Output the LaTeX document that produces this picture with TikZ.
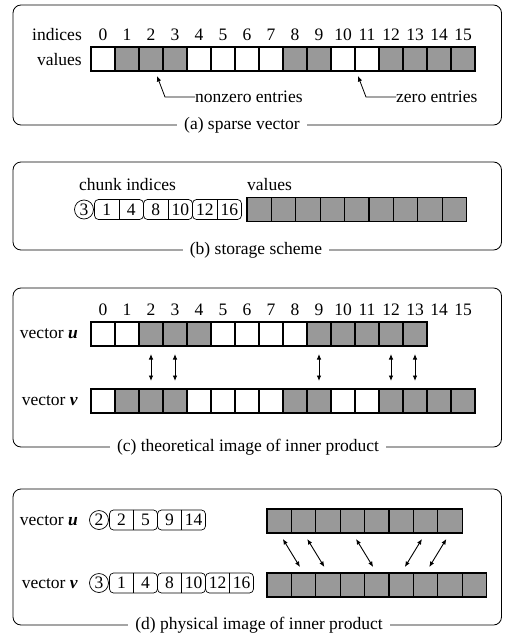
\documentclass[tikz,border=0pt]{standalone}
\usepackage{fontspec}
\IfFontExistsTF{LiberationSerif-Regular.ttf}{%
  \setmainfont{LiberationSerif-Regular.ttf}[BoldFont=LiberationSerif-Bold.ttf,ItalicFont=LiberationSerif-Italic.ttf,BoldItalicFont=LiberationSerif-BoldItalic.ttf]%
}{%
  \setmainfont{Latin Modern Roman}%
}
\usetikzlibrary{arrows.meta}
\definecolor{cellgray}{gray}{0.6}
\begin{document}
\begin{tikzpicture}[x=1pt,y=-1pt,
  font=\rmfamily\fontsize{17.5}{20}\selectfont,
  cell/.style={draw, line width=1.1pt, minimum width=24pt, minimum height=24pt, inner sep=0pt, outer sep=0pt},
  frame/.style={draw, line width=0.8pt, rounded corners=8pt},
  captext/.style={fill=white, inner xsep=7pt, inner ysep=2pt},
  lbl/.style={inner sep=0pt, anchor=base east},
  idx/.style={inner sep=0pt, anchor=base},
  txt/.style={inner sep=0pt, anchor=base west},
  cnt/.style={draw, circle, line width=0.7pt, minimum size=19pt, inner sep=0pt},
  chunk/.style={draw, rounded corners=4pt, line width=0.7pt, minimum height=20pt, inner sep=0pt},
  num/.style={inner sep=0pt},
  arr/.style={{Latex[length=5.5pt,width=4.5pt]}-{Latex[length=5.5pt,width=4.5pt]}, line width=0.9pt},
  pointer/.style={-{Latex[length=5.5pt,width=4.5pt]}, line width=0.8pt},
]
\useasboundingbox (0,0) rectangle (504,637);

% ---------------- (a) sparse vector ----------------
\draw[frame] (13,5) rectangle (501.5,125);
\node[captext] (capa) at (242,125) {(a) sparse vector};
\node[lbl] (indl) at (82,40) {indices};
\node[lbl] (vall) at (82,65) {values};
\foreach \i/\c in {0/white,1/cellgray,2/cellgray,3/cellgray,4/white,5/white,6/white,7/white,8/cellgray,9/cellgray,10/white,11/white,12/cellgray,13/cellgray,14/cellgray,15/cellgray}{
  \node[cell, fill=\c] (a\i) at ({103+24*\i},59) {};
  \node[idx] (ia\i) at ({103+24*\i},40) {\i};
}
\node[anchor=west, inner sep=0pt] (nz) at (195,97) {nonzero entries};
\coordinate (nzc) at (165,97);
\coordinate (nzt) at (157,76);
\draw[pointer] (nz.west) -- (nzc) -- (nzt);
\node[anchor=west, inner sep=0pt] (ze) at (396,97) {zero entries};
\coordinate (zec) at (366,97);
\coordinate (zet) at (358,76);
\draw[pointer] (ze.west) -- (zec) -- (zet);

% ---------------- (b) storage scheme ----------------
\draw[frame] (13,162) rectangle (501.5,250);
\node[captext] (capb) at (256,250) {(b) storage scheme};
\node[txt] (chl) at (79,190) {chunk indices};
\node[txt] (bvl) at (247,190) {values};
\node[cnt] (bc) at (84,209.5) {3};
\foreach \n/\x/\p/\q in {bk1/119/1/4, bk2/168/8/10, bk3/217/12/16}{
  \node[chunk, minimum width=49pt] (\n) at (\x,209.5) {};
  \draw[line width=0.7pt] (\n.north) -- (\n.south);
  \node[num] (\n p) at ([xshift=-12.25pt]\n.center) {\p};
  \node[num] (\n q) at ([xshift=12.25pt]\n.center) {\q};
}
\foreach \i in {0,...,8}{
  \node[cell, fill=cellgray, minimum width=24.4pt] (b\i) at ({247+12.2+24.4*\i},209.5) {};
}

% ---------------- (c) theoretical image ----------------
\draw[frame] (13,288) rectangle (501.5,447);
\node[captext] (capc) at (248,447) {(c) theoretical image of inner product};
\foreach \i in {0,...,15}{
  \node[idx] (ic\i) at ({103+24*\i},315) {\i};
}
\node[lbl] (cul) at (78,338) {vector \textbf{\textit{u}}};
\node[lbl] (cvl) at (78,405) {vector \textbf{\textit{v}}};
\foreach \i/\c in {0/white,1/white,2/cellgray,3/cellgray,4/cellgray,5/white,6/white,7/white,8/white,9/cellgray,10/cellgray,11/cellgray,12/cellgray,13/cellgray}{
  \node[cell, fill=\c] (cu\i) at ({103+24*\i},334) {};
}
\foreach \i/\c in {0/white,1/cellgray,2/cellgray,3/cellgray,4/white,5/white,6/white,7/white,8/cellgray,9/cellgray,10/white,11/white,12/cellgray,13/cellgray,14/cellgray,15/cellgray}{
  \node[cell, fill=\c] (cv\i) at ({103+24*\i},401) {};
}
\foreach \i in {2,3,9,12,13}{
  \draw[arr, shorten <=8pt, shorten >=8pt] (cu\i.south) -- (cv\i.north);
}

% ---------------- (d) physical image ----------------
\draw[frame] (13,489) rectangle (501.5,625);
\node[captext] (capd) at (259,625) {(d) physical image of inner product};
\node[lbl] (dul) at (78,525) {vector \textbf{\textit{u}}};
\node[lbl] (dvl) at (78,588) {vector \textbf{\textit{v}}};
\node[cnt] (duc) at (99,520) {2};
\node[cnt] (dvc) at (99,583) {3};
\foreach \n/\x/\y/\p/\q in {du1/133.5/520/2/5, du2/181.5/520/9/14, dv1/133.5/583/1/4, dv2/181.5/583/8/10, dv3/229.5/583/12/16}{
  \node[chunk, minimum width=48pt] (\n) at (\x,\y) {};
  \draw[line width=0.7pt] (\n.north) -- (\n.south);
  \node[num] (\n p) at ([xshift=-12pt]\n.center) {\p};
  \node[num] (\n q) at ([xshift=12pt]\n.center) {\q};
}
\foreach \i in {0,...,7}{
  \node[cell, fill=cellgray, minimum width=24.4pt] (du\i) at ({267+12.2+24.4*\i},521) {};
}
\foreach \i in {0,...,8}{
  \node[cell, fill=cellgray, minimum width=24.4pt] (dv\i) at ({267+12.2+24.4*\i},585) {};
}
\foreach \a/\b in {0/1,1/2,3/4,6/5,7/6}{
  \draw[arr, shorten <=7pt, shorten >=7pt] (du\a.south) -- (dv\b.north);
}
\end{tikzpicture}
\end{document}
